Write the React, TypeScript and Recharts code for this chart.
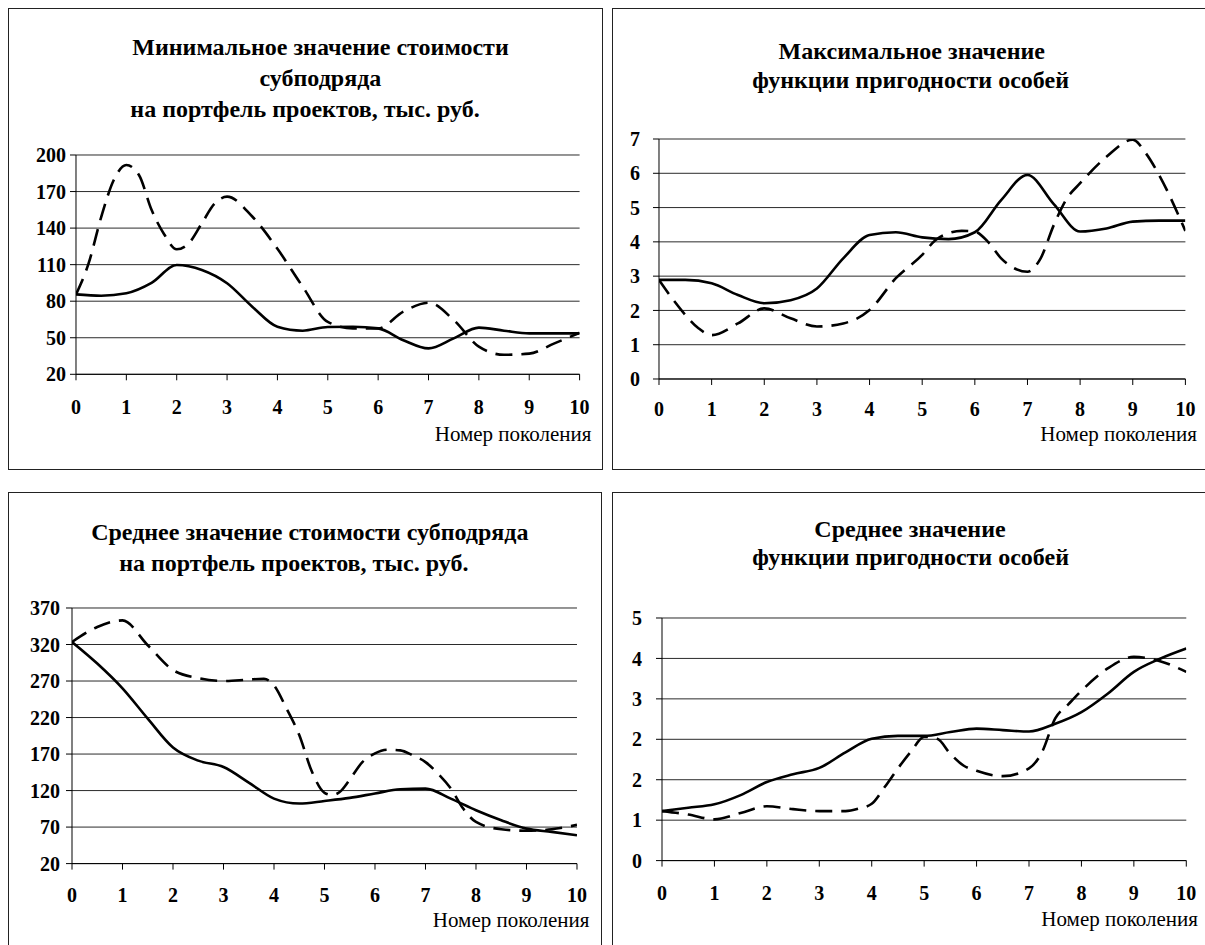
import React from 'react';
import { LineChart, Line, XAxis, YAxis, CartesianGrid } from 'recharts';

const FONT = "'Liberation Serif', 'Times New Roman', serif";

const generations = [0, 1, 2, 3, 4, 5, 6, 7, 8, 9, 10];
const halfSteps = [0, 0.5, 1, 1.5, 2, 2.5, 3, 3.5, 4, 4.5, 5, 5.5, 6, 6.5, 7, 7.5, 8, 8.5, 9, 9.5, 10];

// Минимальное значение стоимости
const minCostTicks = [20, 50, 80, 110, 140, 170, 200];
const minCostSolid = [85.6, 84.5, 86.5, 95, 109.7, 105.6, 94.7, 75.5, 59, 55.8, 58.8, 59, 57.7, 48, 41.3, 49.5, 58.3, 55.8, 53.6, 53.6, 53.6];
const minCostDashedX = [0, 0.25, 0.5, 0.75, 1, 1.25, 1.5, 1.75, 2, 2.25, 2.5, 2.75, 3, 3.5, 4, 4.5, 5, 5.5, 6, 6.5, 7, 7.5, 8, 8.5, 9, 9.5, 10];
const minCostDashed = [85.6, 111, 149, 179.5, 191.8, 183.6, 155, 135, 122.6, 128, 144, 160, 165.8, 149.5, 123, 92, 63, 57.7, 57.7, 71.4, 78.8, 64.6, 42.7, 36, 37, 45.4, 54];

// Максимальное значение функции пригодности
const maxFitTicks = [0, 1, 2, 3, 4, 5, 6, 7];
const maxFitSolid = [2.89, 2.89, 2.79, 2.45, 2.21, 2.3, 2.64, 3.52, 4.2, 4.28, 4.13, 4.08, 4.28, 5.22, 5.95, 5.1, 4.3, 4.39, 4.59, 4.62, 4.62];
const maxFitDashedX = [0, 0.25, 0.5, 0.75, 1, 1.5, 2, 2.5, 3, 3.5, 4, 4.5, 5, 5.25, 5.5, 5.75, 6, 6.25, 6.5, 6.75, 7, 7.25, 7.5, 7.75, 8, 8.5, 9, 9.25, 9.5, 10];
const maxFitDashed = [2.89, 2.35, 1.87, 1.48, 1.28, 1.62, 2.06, 1.77, 1.53, 1.62, 2.01, 2.94, 3.62, 4.05, 4.25, 4.32, 4.3, 4.0, 3.52, 3.23, 3.13, 3.52, 4.49, 5.27, 5.71, 6.48, 6.98, 6.58, 5.95, 4.32];

// Среднее значение стоимости
const avgCostTicks = [20, 70, 120, 170, 220, 270, 320, 370];
const avgCostSolid = [323.5, 294, 260, 218.5, 179, 161, 152.3, 131, 109, 102.2, 105.8, 110, 116, 121.8, 122.7, 109, 93, 79.3, 67.9, 63.4, 58.8];
const avgCostDashedX = [0, 0.5, 1, 1.5, 2, 2.5, 3, 3.5, 3.8, 4, 4.25, 4.5, 4.75, 5, 5.15, 5.3, 5.5, 5.75, 6, 6.25, 6.5, 6.75, 7, 7.25, 7.5, 7.75, 8, 8.5, 9, 9.5, 10];
const avgCostDashed = [323.5, 344, 353, 319, 285, 274, 270, 272, 273, 264, 232, 196, 146, 117, 114, 118, 135, 159, 171, 176, 175, 168, 159, 143, 123, 95, 77, 67, 65, 67, 73];

// Среднее значение функции пригодности
const avgFitTicks = [0, 0.8333, 1.6667, 2.5, 3.3333, 4.1667, 5];
const avgFitLabels = ['0', '1', '2', '2', '3', '4', '5'];
const avgFitSolid = [1.02, 1.09, 1.16, 1.35, 1.62, 1.78, 1.91, 2.23, 2.51, 2.57, 2.57, 2.65, 2.72, 2.69, 2.66, 2.82, 3.06, 3.44, 3.89, 4.16, 4.37];
const avgFitDashedX = [0, 0.5, 1, 1.5, 2, 2.5, 3, 3.5, 3.75, 4, 4.25, 4.5, 4.75, 5, 5.25, 5.5, 5.75, 6, 6.5, 7, 7.25, 7.5, 7.75, 8, 8.5, 9, 9.5, 10];
const avgFitDashed = [1.02, 0.95, 0.85, 0.98, 1.12, 1.06, 1.02, 1.02, 1.07, 1.17, 1.52, 1.9, 2.25, 2.55, 2.51, 2.2, 1.96, 1.85, 1.74, 1.9, 2.24, 2.93, 3.22, 3.5, 3.96, 4.2, 4.11, 3.89];

const toPoints = (xs: number[], ys: number[]) => xs.map((x, i) => ({ x, y: ys[i] }));

type PlotProps = {
  plot: [number, number, number, number];
  yDomain: [number, number];
  yTicks: number[];
  yLabels?: string[];
  yGap: number;
  xGap: number;
  solid: { x: number; y: number }[];
  dashed: { x: number; y: number }[];
};

function Plot({ plot, yDomain, yTicks, yLabels, yGap, xGap, solid, dashed }: PlotProps) {
  const [x0, y0, x1, y1] = plot;
  const padL = 80, padT = 12, padR = 28, axisH = 60;
  const tickStyle = { fill: '#000', fontSize: 20, fontWeight: 'bold', fontFamily: FONT };
  return (
    <div style={{ position: 'absolute', left: x0 - padL, top: y0 - padT }}>
      <LineChart
        width={x1 - x0 + padL + padR}
        height={y1 - y0 + padT + axisH}
        margin={{ top: padT, right: padR, bottom: 0, left: 0 }}
      >
        <CartesianGrid vertical={false} stroke="#2a2a2a" />
        <XAxis
          type="number"
          dataKey="x"
          domain={[0, 10]}
          ticks={generations}
          interval={0}
          allowDataOverflow
          height={axisH}
          tickSize={6}
          tickMargin={xGap}
          axisLine={{ stroke: '#000' }}
          tickLine={{ stroke: '#000' }}
          tick={tickStyle}
        />
        <YAxis
          type="number"
          domain={yDomain}
          ticks={yTicks}
          interval={0}
          allowDataOverflow
          width={padL}
          tickSize={6}
          tickMargin={yGap}
          axisLine={{ stroke: '#000' }}
          tickLine={{ stroke: '#000' }}
          tick={tickStyle}
          tickFormatter={(v: number) => {
            const i = yTicks.indexOf(v);
            return yLabels && i >= 0 ? yLabels[i] : String(v);
          }}
        />
        <Line data={dashed} dataKey="y" type="monotone" stroke="#000" strokeWidth={2.6}
          strokeDasharray="17 9" dot={false} activeDot={false} isAnimationActive={false} />
        <Line data={solid} dataKey="y" type="monotone" stroke="#000" strokeWidth={2.6}
          dot={false} activeDot={false} isAnimationActive={false} />
      </LineChart>
    </div>
  );
}

function TitleLine({ text, cx, baseline }: { text: string; cx: number; baseline: number }) {
  return (
    <div style={{
      position: 'absolute', left: cx - 300, width: 600, top: baseline - 20.1,
      textAlign: 'center', fontSize: 24, lineHeight: 1, fontWeight: 'bold', fontFamily: FONT, whiteSpace: 'nowrap',
    }}>{text}</div>
  );
}

function AxisName({ right, baseline }: { right: number; baseline: number }) {
  return (
    <div style={{
      position: 'absolute', left: right - 300, width: 300, top: baseline - 17.6,
      textAlign: 'right', fontSize: 21, lineHeight: 1, fontFamily: FONT, whiteSpace: 'nowrap',
    }}>Номер поколения</div>
  );
}

function Box({ left, top, width, height }: { left: number; top: number; width: number; height: number }) {
  return (
    <div style={{ position: 'absolute', left, top, width, height, border: '1px solid #222', boxSizing: 'border-box' }} />
  );
}

export default function App() {
  return (
    <div style={{ position: 'absolute', left: 0, top: 0, width: 1205, height: 945, overflow: 'hidden', background: '#fff', color: '#000' }}>
      <Box left={8} top={8} width={595} height={462} />
      <Box left={612} top={8} width={610} height={462} />
      <Box left={8} top={492} width={594} height={470} />
      <Box left={612} top={492} width={610} height={470} />

      <TitleLine text="Минимальное значение стоимости" cx={320.5} baseline={55} />
      <TitleLine text="субподряда" cx={320.4} baseline={86} />
      <TitleLine text="на портфель проектов, тыс. руб." cx={305} baseline={117} />
      <Plot plot={[75.7, 155, 579.3, 374.3]} yDomain={[20, 200]} yTicks={minCostTicks} yGap={4} xGap={20}
        solid={toPoints(halfSteps, minCostSolid)} dashed={toPoints(minCostDashedX, minCostDashed)} />
      <AxisName right={591.4} baseline={442} />

      <TitleLine text="Максимальное значение" cx={911.8} baseline={59} />
      <TitleLine text="функции пригодности особей" cx={910.6} baseline={88} />
      <Plot plot={[659.3, 139, 1185.7, 379]} yDomain={[0, 7]} yTicks={maxFitTicks} yGap={13} xGap={17}
        solid={toPoints(halfSteps, maxFitSolid)} dashed={toPoints(maxFitDashedX, maxFitDashed)} />
      <AxisName right={1197} baseline={442} />

      <TitleLine text="Среднее значение стоимости субподряда" cx={309.8} baseline={540} />
      <TitleLine text="на портфель проектов, тыс. руб." cx={293.8} baseline={571} />
      <Plot plot={[72.3, 607.7, 577.3, 863.3]} yDomain={[20, 370]} yTicks={avgCostTicks} yGap={6} xGap={18}
        solid={toPoints(halfSteps, avgCostSolid)} dashed={toPoints(avgCostDashedX, avgCostDashed)} />
      <AxisName right={589.5} baseline={928} />

      <TitleLine text="Среднее значение" cx={910} baseline={537} />
      <TitleLine text="функции пригодности особей" cx={910.6} baseline={565} />
      <Plot plot={[661.7, 617.7, 1186, 860.3]} yDomain={[0, 5]} yTicks={avgFitTicks} yLabels={avgFitLabels} yGap={14} xGap={19}
        solid={toPoints(halfSteps, avgFitSolid)} dashed={toPoints(avgFitDashedX, avgFitDashed)} />
      <AxisName right={1198} baseline={927} />
    </div>
  );
}
